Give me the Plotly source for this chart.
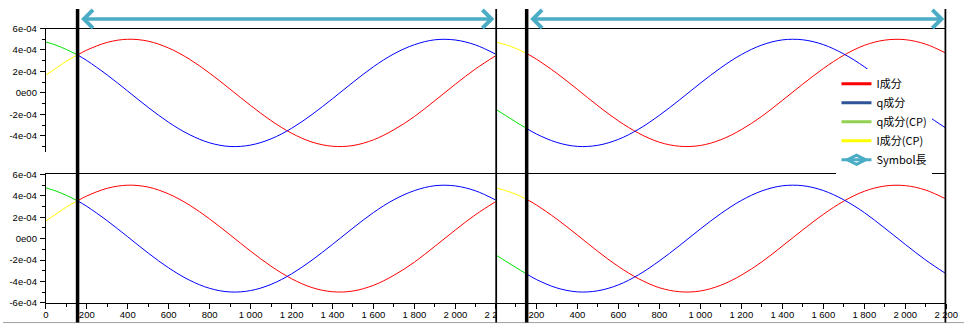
import plotly.graph_objects as go

# ---------------- data (in volts) ----------------
# Left OFDM symbol: cyclic prefix part
x_cp_left = [0, 50, 100, 155]
q_cp_left = [4.75, 4.45, 4.05, 3.54]      # x1e-4
i_cp_left = [1.65, 2.30, 2.95, 3.54]      # x1e-4
# Left OFDM symbol: useful part
x_sym_left = [155, 200, 300, 400, 500, 600, 700, 800, 900, 1000, 1100,
              1200, 1300, 1400, 1500, 1600, 1700, 1800, 1900, 2000, 2100, 2200]
i_left = [3.54, 3.99, 4.71, 5.00, 4.82, 4.18, 3.16, 1.84, 0.35, -1.17, -2.58,
          -3.75, -4.58, -4.97, -4.90, -4.37, -3.43, -2.20, -0.72, 0.81, 2.26, 3.50]
q_left = [3.54, 3.02, 1.67, 0.17, -1.35, -2.74, -3.87, -4.65, -4.99, -4.86, -4.28,
          -3.30, -2.01, -0.54, 0.99, 2.44, 3.64, 4.49, 4.95, 4.93, 4.46, 3.58]

# Right OFDM symbol: cyclic prefix part
x_cp_right = [0, 50, 100, 153]
i_cp_right = [4.75, 4.50, 4.15, 3.68]
q_cp_right = [-1.50, -2.10, -2.70, -3.31]
# Right OFDM symbol: useful part
x_sym_right = [153, 200, 300, 400, 500, 600, 700, 800, 900, 1000, 1100,
               1200, 1300, 1400, 1500, 1600, 1700, 1800, 1900, 2000, 2100, 2200]
i_right = [3.68, 3.15, 1.83, 0.34, -1.19, -2.60, -3.76, -4.59, -4.97, -4.90, -4.36,
           -3.42, -2.18, -0.70, 0.82, 2.27, 3.51, 4.43, 4.92, 4.96, 4.54, 3.69]
q_right = [-3.31, -3.82, -4.61, -4.98, -4.88, -4.33, -3.37, -2.09, -0.63, 0.90, 2.34,
           3.57, 4.46, 4.94, 4.95, 4.50, 3.63, 2.44, 0.98, -0.54, -2.01, -3.30]

SCALE = 1e-4

# symbol boundaries (samples)
cp_end_left = 155
cp_end_right = 153
sym_start_right = 0
sym_end = 2200

# axis tick labels
x_tickvals = [0, 200, 400, 600, 800, 1000, 1200, 1400, 1600, 1800, 2000, 2200]
x_ticktext_left = ["0", "200", "400", "600", "800", "1 000", "1 200", "1 400",
                   "1 600", "1 800", "2 000", "2 200"]
# the right panel's "0" label is hidden behind the symbol boundary line
x_ticktext_right = ["", "200", "400", "600", "800", "1 000", "1 200", "1 400",
                    "1 600", "1 800", "2 000", "2 200"]
x_minor = [100, 300, 500, 700, 900, 1100, 1300, 1500, 1700, 1900, 2100]
y_tickvals_bottom = [6e-4, 4e-4, 2e-4, 0, -2e-4, -4e-4, -6e-4]
y_ticktext_bottom = ["6e-04", "4e-04", "2e-04", "0e00", "-2e-04", "-4e-04", "-6e-04"]
y_tickvals_top = [6e-4, 4e-4, 2e-4, 0, -2e-4, -4e-4]
y_ticktext_top = ["6e-04", "4e-04", "2e-04", "0e00", "-2e-04", "-4e-04"]
y_minor = [5e-4, 3e-4, 1e-4, -1e-4, -3e-4, -5e-4]

legend_names = ["I成分", "q成分", "q成分(CP)", "I成分(CP)", "Symbol長"]
legend_colors = ["#ff0000", "#2f5597", "#92d050", "#ffff00", "#4bacc6"]

# ---------------- figure ----------------
W, H = 976, 330


def px_x(p):
    return p / W


def px_y(p):
    return 1 - p / H


C_I, C_Q, C_QCP, C_ICP = "#ff0000", "#0000ff", "#00e000", "#ffff00"

fig = go.Figure()


def sc(v):
    return [a * SCALE for a in v]


panels = [("x3", "y3", "left"), ("x4", "y4", "right"),
          ("x", "y", "left"), ("x2", "y2", "right")]
for xa, ya, side in panels:
    if side == "left":
        data = [(x_cp_left, q_cp_left, C_QCP), (x_cp_left, i_cp_left, C_ICP),
                (x_sym_left, i_left, C_I), (x_sym_left, q_left, C_Q)]
    else:
        data = [(x_cp_right, q_cp_right, C_QCP), (x_cp_right, i_cp_right, C_ICP),
                (x_sym_right, i_right, C_I), (x_sym_right, q_right, C_Q)]
    for xs, ys, col in data:
        fig.add_trace(go.Scatter(x=xs, y=sc(ys), mode="lines", xaxis=xa, yaxis=ya,
                                 line=dict(color=col, width=1, shape="spline", smoothing=1.0),
                                 showlegend=False, hoverinfo="skip"))

# legend-only entries
for i, (nm, col) in enumerate(zip(legend_names, legend_colors)):
    if nm == "Symbol長":
        fig.add_trace(go.Scatter(x=[None], y=[None], mode="lines+markers", name=nm,
                                 xaxis="x4", yaxis="y4",
                                 line=dict(color=col, width=3),
                                 marker=dict(symbol="diamond-wide-open", size=13,
                                             color=col, line=dict(width=3, color=col))))
    else:
        fig.add_trace(go.Scatter(x=[None], y=[None], mode="lines", name=nm,
                                 xaxis="x4", yaxis="y4",
                                 line=dict(color=col, width=3)))

left_dom = [px_x(43.5), px_x(501)]
right_dom = [px_x(500), px_x(958)]
top_dom = [px_y(151), px_y(23.3)]
bot_dom = [px_y(307), px_y(174.3)]

tickfont = dict(family="Liberation Sans, Arial, sans-serif", size=9.5, color="#000000")

xbase = dict(range=[0, 2200], showgrid=False, zeroline=False, fixedrange=True)
minor_x = dict(tickmode="array", tickvals=x_minor, ticks="outside", ticklen=3,
               tickcolor="black")
minor_y = dict(tickmode="array", tickvals=y_minor, ticks="outside", ticklen=3,
               tickcolor="black")
fig.update_layout(
    xaxis=dict(**xbase, domain=left_dom, anchor="y", showline=True, linecolor="black",
               linewidth=1, mirror=True, ticks="outside", ticklen=5, tickcolor="black",
               tickmode="array", tickvals=x_tickvals, ticktext=x_ticktext_left,
               tickfont=tickfont, ticklabelstandoff=-2, minor=minor_x),
    xaxis2=dict(**xbase, domain=right_dom, anchor="y2", showline=True, linecolor="black",
                linewidth=1, mirror=True, ticks="outside", ticklen=5, tickcolor="black",
                tickmode="array", tickvals=x_tickvals, ticktext=x_ticktext_right,
                tickfont=tickfont, ticklabelstandoff=-2, minor=minor_x),
    xaxis3=dict(**xbase, domain=left_dom, anchor="y3", side="top", showline=True,
                linecolor="black", linewidth=1, showticklabels=False, ticks=""),
    xaxis4=dict(**xbase, domain=right_dom, anchor="y4", side="top", showline=True,
                linecolor="black", linewidth=1, showticklabels=False, ticks=""),
    yaxis=dict(domain=bot_dom, anchor="x", range=[-6e-4, 6e-4], showgrid=False,
               zeroline=False, showline=True, linecolor="black", linewidth=1,
               ticks="outside", ticklen=5, tickcolor="black", tickmode="array",
               tickvals=y_tickvals_bottom, ticktext=y_ticktext_bottom, tickfont=tickfont,
               ticklabelstandoff=1, minor=minor_y, fixedrange=True),
    yaxis2=dict(domain=bot_dom, anchor="x2", range=[-6e-4, 6e-4], visible=False,
                fixedrange=True),
    yaxis3=dict(domain=top_dom, anchor="x3", range=[-5.5e-4, 6e-4], showgrid=False,
                zeroline=False, showline=True, linecolor="black", linewidth=1,
                ticks="outside", ticklen=5, tickcolor="black", tickmode="array",
                tickvals=y_tickvals_top, ticktext=y_ticktext_top, tickfont=tickfont,
                ticklabelstandoff=1, minor=minor_y, fixedrange=True),
    yaxis4=dict(domain=top_dom, anchor="x4", range=[-5.5e-4, 6e-4], visible=False,
                fixedrange=True),
)

shapes = []
# the right panel covers the tail of the left panel's last tick label
shapes.append(dict(type="rect", xref="paper", yref="paper", x0=px_x(501), x1=px_x(518),
                   y0=px_y(324), y1=px_y(309), fillcolor="white", line=dict(width=0),
                   layer="above"))
# grey bottom border
shapes.append(dict(type="line", xref="paper", yref="paper", x0=0, x1=1,
                   y0=px_y(327.5), y1=px_y(327.5), line=dict(color="#a0a0a0", width=1),
                   layer="above"))
# thick black symbol boundary lines
for xr, xv in [("x", cp_end_left), ("x2", sym_start_right), ("x2", cp_end_right),
               ("x2", sym_end)]:
    shapes.append(dict(type="line", xref=xr, yref="paper", x0=xv, x1=xv,
                       y0=px_y(327.5), y1=px_y(3), line=dict(color="black", width=3.5),
                       layer="above"))

annotations = []
for xr, x0, x1 in [("x3", cp_end_left, sym_end), ("x4", cp_end_right, sym_end)]:
    annotations.append(dict(xref=xr, axref=xr, x=x1, ax=x0, yref="paper", y=px_y(13.5),
                            ayref="pixel", ay=0, text="", showarrow=True,
                            arrowside="end+start", arrowhead=4, startarrowhead=4,
                            arrowsize=1, startarrowsize=1, arrowwidth=3.5,
                            arrowcolor="#4bacc6", standoff=2, startstandoff=2))

fig.update_layout(
    width=W, height=H, margin=dict(l=0, r=0, t=0, b=0),
    paper_bgcolor="white", plot_bgcolor="white",
    font=dict(family="Liberation Sans, Arial, sans-serif", size=9, color="black"),
    shapes=shapes, annotations=annotations,
    showlegend=True,
    legend=dict(x=px_x(846.5), xanchor="left", y=px_y(65.5), yanchor="top",
                bgcolor="white", borderwidth=0, itemwidth=30,
                font=dict(family="Noto Sans CJK JP", size=11, color="black")),
)

fig.write_html("out.html")
